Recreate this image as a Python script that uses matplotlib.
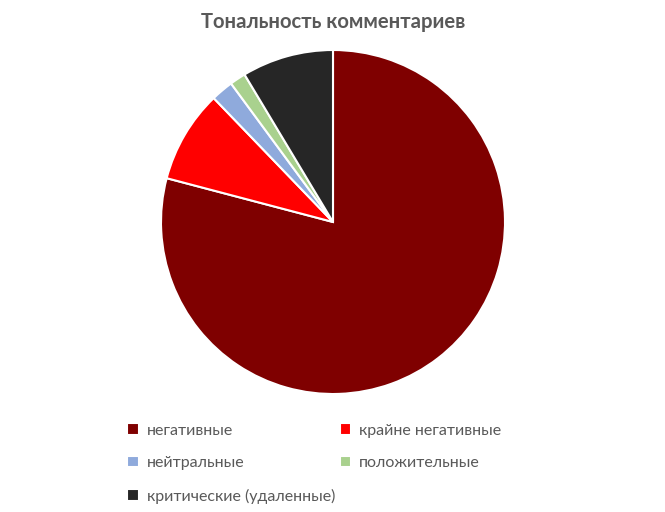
import matplotlib.pyplot as plt

# Data
labels = ['негативные', 'крайне негативные', 'нейтральные', 'положительные',
          'критические (удаленные)']
values = [79.1, 8.7, 2.1, 1.5, 8.6]
colors = ['#7f0000', '#ff0000', '#8faadc', '#a9d18e', '#262626']

plt.rcParams['font.family'] = ['Lato', 'DejaVu Sans']

fig = plt.figure(figsize=(6.65, 5.12), dpi=100)
ax = fig.add_axes([161/665, 118/512, 344/665, 344/512])

wedges, _ = ax.pie(values, colors=colors, startangle=90, counterclock=False,
                   wedgeprops=dict(edgecolor='white', linewidth=1.5))
ax.set_xlim(-1, 1)
ax.set_ylim(-1, 1)
ax.set_aspect('equal')

fig.text(333/665, 1 - 22/512, 'Тональность комментариев', ha='center', va='center',
         fontsize=14.6, fontweight='bold', color='#595959')

order = [0, 2, 4, 1, 3]
fig.legend([wedges[i] for i in order], [labels[i] for i in order], ncol=2,
           loc='upper left', bbox_to_anchor=(113/665, 1 - 409/512), frameon=False,
           handlelength=0.7, handleheight=0.7, handletextpad=0.5,
           columnspacing=0.3, labelspacing=1.15, fontsize=11.5, labelcolor='#595959')

fig.savefig('out.png', dpi=100)
